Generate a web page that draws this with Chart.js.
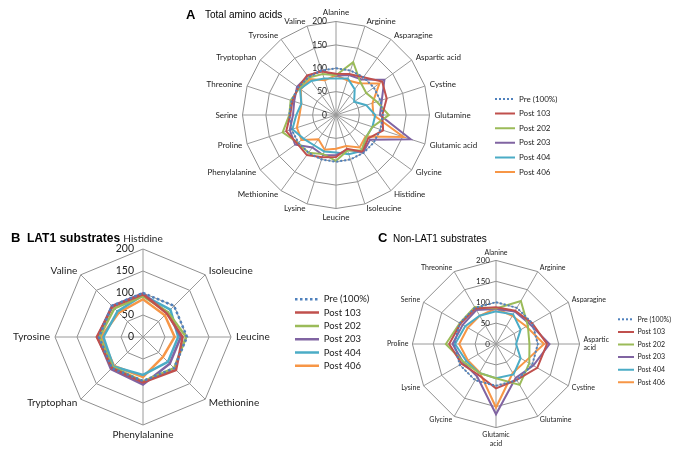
<!DOCTYPE html>
<html><head><meta charset="utf-8">
<script src="https://cdn.jsdelivr.net/npm/chart.js@4.4.1/dist/chart.umd.min.js"></script>
<style>
html,body{margin:0;padding:0;background:#fff;}
#wrap{position:relative;width:677px;height:449px;overflow:hidden;background:#fff;}
canvas{position:absolute;left:0;top:0;}
.t{position:absolute;font-family:'Liberation Sans',Arial,sans-serif;color:#000;white-space:nowrap;line-height:1;}
</style></head><body>
<div id="wrap">
<canvas id="cA" width="677" height="449"></canvas>
<canvas id="cB" width="677" height="449"></canvas>
<canvas id="cC" width="677" height="449"></canvas>
<div class="t" style="left:186px;top:8px;font-size:13px;font-weight:bold;">A</div>
<div class="t" style="left:205px;top:10px;font-size:10px;">Total amino acids</div>
<div class="t" style="left:11px;top:231px;font-size:13px;font-weight:bold;">B</div>
<div class="t" style="left:27px;top:232px;font-size:12px;font-weight:bold;">LAT1 substrates</div>
<div class="t" style="left:378px;top:231px;font-size:13px;font-weight:bold;">C</div>
<div class="t" style="left:393px;top:234px;font-size:10px;">Non-LAT1 substrates</div>
</div>
<script>
// ---- categories ----
const aminoAcids = ['Alanine','Arginine','Asparagine','Aspartic acid','Cystine','Glutamine','Glutamic acid','Glycine','Histidine','Isoleucine','Leucine','Lysine','Methionine','Phenylalanine','Proline','Serine','Threonine','Tryptophan','Tyrosine','Valine'];
const lat1Substrates = ['Histidine','Isoleucine','Leucine','Methionine','Phenylalanine','Tryptophan','Tyrosine','Valine'];
const nonLat1Substrates = ['Alanine','Arginine','Asparagine','Aspartic acid','Cystine','Glutamine','Glutamic acid','Glycine','Lysine','Proline','Serine','Threonine'];

// ---- series (% of pre), in aminoAcids order ----
const seriesNames = ['Pre (100%)','Post 103','Post 202','Post 203','Post 404','Post 406'];
const pre100  = [100,100,100,100,100,100,100,100,100,100,100,100,100,100,100,100,100,100,100,100];
const post103 = [88, 92,100,122,114, 99,106, 85, 97, 76, 90, 95,106,103,112, 98, 98,100,105, 98];
const post202 = [85,119, 88, 80, 92,113, 82, 80, 93, 80, 98, 88,100,101,120,100,102, 97, 99, 92];
const post203 = [84, 90, 94,128,103, 94,168, 90, 99, 78, 86, 90, 86,108,104, 92, 94,103,103,100];
const post404 = [78, 82, 68, 48, 68, 84, 82, 80, 95, 88, 80, 82, 80, 86, 98, 85, 78, 95, 90, 82];
const post406 = [85, 78, 84,115, 82, 80,152, 78, 86, 70, 72, 78, 64, 91, 88, 78, 78, 93, 95, 78];

// ---- axis ticks ----
const tickValues = [0, 50, 100, 150, 200];

const seriesColors = ['#4F81BD','#C0504D','#9BBB59','#8064A2','#4BACC6','#F79646'];
const allSeries = [pre100, post103, post202, post203, post404, post406];

function pick(arr, names){ return names.map(n => arr[aminoAcids.indexOf(n)]); }

const LABEL_FONT = 'Lato, "Open Sans", sans-serif';

function makeChart(id, names, displayLabels, cfg){
  const datasets = allSeries.map((s, i) => ({
    label: seriesNames[i],
    data: pick(s, names),
    borderColor: seriesColors[i],
    backgroundColor: 'rgba(0,0,0,0)',
    borderWidth: cfg.lw,
    borderDash: i === 0 ? cfg.dash : [],
    pointRadius: 0,
    fill: false,
    tension: 0,
    clip: false
  }));
  const plugin = {
    id: 'placeRadar',
    afterLayout(chart){
      const s = chart.scales.r;
      s.xCenter = cfg.cx; s.yCenter = cfg.cy; s.drawingArea = cfg.R;
      const lg = chart.legend;
      if (lg){
        const p = cfg.legPad;
        lg.left = cfg.legX - p; lg.top = cfg.legY - p - cfg.legFont/2;
        lg.width = 160; lg.height = 200;
        lg.right = lg.left + 160; lg.bottom = lg.top + 200;
      }
    },
    beforeDatasetsDraw(chart){
      const s = chart.scales.r, ctx = chart.ctx;
      ctx.save();
      ctx.fillStyle = '#222';
      // tick labels
      ctx.font = cfg.tickFont + 'px ' + LABEL_FONT;
      ctx.textAlign = 'right'; ctx.textBaseline = 'middle';
      s.ticks.forEach(t => {
        const d = s.getDistanceFromCenterForValue(t.value);
        ctx.fillText(String(t.value), s.xCenter - cfg.tickOff, s.yCenter - d);
      });
      // point labels
      ctx.font = cfg.labFont + 'px ' + LABEL_FONT;
      const lh = cfg.labFont * 1.2;
      displayLabels.forEach((lab, i) => {
        const lines = Array.isArray(lab) ? lab : [lab];
        const a = s.getIndexAngle(i);
        const sa = Math.sin(a), ca = Math.cos(a);
        const pos = s.getPointPosition(i, cfg.R + cfg.labPad);
        ctx.textAlign = Math.abs(sa) < 0.02 ? 'center' : (sa > 0 ? 'left' : 'right');
        let y0;
        if (ca > 0.98){ ctx.textBaseline = 'bottom'; y0 = pos.y - (lines.length - 1) * lh; }
        else if (ca < -0.98){ ctx.textBaseline = 'top'; y0 = pos.y; }
        else { ctx.textBaseline = 'middle'; y0 = pos.y - (lines.length - 1) * lh / 2; }
        lines.forEach((ln, k) => ctx.fillText(ln, pos.x, y0 + k * lh));
      });
      ctx.restore();
    }
  };
  return new Chart(document.getElementById(id), {
    type: 'radar',
    data: { labels: names, datasets },
    options: {
      responsive: false, animation: false, devicePixelRatio: 1, events: [],
      layout: { padding: 0 },
      scales: {
        r: {
          min: 0, max: 200,
          ticks: { stepSize: 50, display: false },
          afterBuildTicks: (sc) => { sc.ticks = tickValues.map(v => ({ value: v })); },
          pointLabels: { display: false },
          grid: { color: '#8f8f8f', lineWidth: 1 },
          angleLines: { color: '#9a9a9a', lineWidth: 1 }
        }
      },
      plugins: {
        tooltip: { enabled: false },
        legend: {
          position: 'right', align: 'start',
          labels: {
            usePointStyle: true, pointStyle: 'line',
            pointStyleWidth: cfg.legBox, boxWidth: cfg.legBox, boxHeight: cfg.legFont,
            padding: cfg.legPad, color: '#222',
            font: { family: LABEL_FONT, size: cfg.legFont },
            generateLabels: (chart) => chart.data.datasets.map((ds, i) => ({
              text: ds.label, fillStyle: ds.borderColor, strokeStyle: ds.borderColor,
              lineWidth: ds.borderWidth, lineDash: ds.borderDash, lineCap: 'butt',
              pointStyle: 'line', hidden: false, datasetIndex: i, fontColor: '#222'
            }))
          }
        }
      }
    },
    plugins: [plugin]
  });
}

makeChart('cA', aminoAcids, aminoAcids, {
  cx: 336, cy: 115, R: 93.5, lw: 2, dash: [2, 2],
  tickFont: 8.5, tickOff: 9, labFont: 8, labPad: 5,
  legX: 495, legY: 99, legFont: 8, legPad: 6.6, legBox: 20
});
makeChart('cB', lat1Substrates, lat1Substrates, {
  cx: 143, cy: 337, R: 88, lw: 2.5, dash: [2.5, 2.5],
  tickFont: 10.5, tickOff: 9, labFont: 10, labPad: 5,
  legX: 295, legY: 299.3, legFont: 9.5, legPad: 3.8, legBox: 24
});
makeChart('cC', nonLat1Substrates,
  ['Alanine','Arginine','Asparagine',['Aspartic','acid'],'Cystine','Glutamine',['Glutamic','acid'],'Glycine','Lysine','Proline','Serine','Threonine'], {
  cx: 496, cy: 344, R: 83.6, lw: 2, dash: [2, 2],
  tickFont: 8, tickOff: 6, labFont: 7, labPad: 4,
  legX: 618, legY: 319.3, legFont: 7, legPad: 5.6, legBox: 16
});
</script>
</body></html>
